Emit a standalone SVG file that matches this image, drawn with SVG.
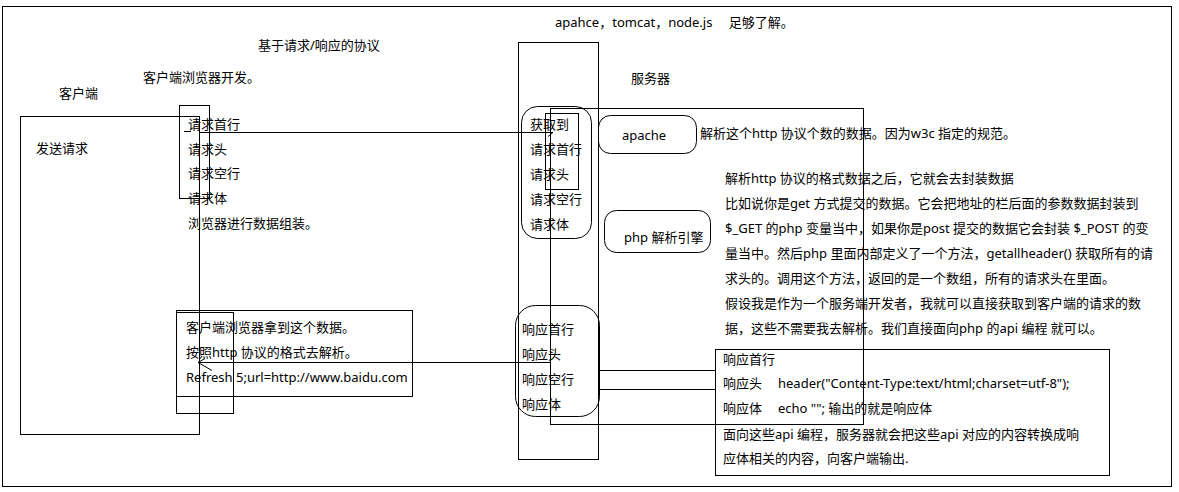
<svg xmlns="http://www.w3.org/2000/svg" width="1179" height="492" viewBox="0 0 1179 492">
<style>
.b{fill:none;stroke:#000;stroke-width:1}
text{font-family:"Noto Sans","Noto Sans CJK SC",sans-serif;font-size:13px;fill:#000}
</style>
<rect width="1179" height="492" fill="#fff"/>
<rect class="b" x="2.5" y="6.5" width="1169" height="480"/>
<g id="titles">
<text x="555" y="27">apahce，tomcat，node.js　  足够了解。</text>
<text x="258" y="50">基于请求/响应的协议</text>
<text x="143" y="82">客户端浏览器开发。</text>
<text x="59" y="98">客户端</text>
<text x="631" y="83">服务器</text>
</g>
<g id="client">
<rect class="b" x="20.5" y="116.5" width="179" height="318"/>
<text x="36" y="153">发送请求</text>
</g>
<g id="client-request">
<rect class="b" x="179.5" y="105.5" width="30" height="93"/>
<text x="188" y="129">请求首行</text>
<text x="188" y="154">请求头</text>
<text x="188" y="178">请求空行</text>
<text x="188" y="203">请求体</text>
<text x="188" y="228">浏览器进行数据组装。</text>
</g>
<g id="client-response">
<rect class="b" x="176.5" y="310.5" width="236" height="86"/>
<rect class="b" x="176.5" y="312.5" width="57" height="101"/>
<text x="186" y="332">客户端浏览器拿到这个数据。</text>
<text x="186" y="357">按照http 协议的格式去解析。</text>
<text x="186" y="382">Refresh 5;url=http://www.baidu.com</text>
</g>
<g id="server">
<rect class="b" x="518.5" y="42.5" width="80" height="417"/>
<rect class="b" x="550.5" y="108.5" width="313" height="316"/>
</g>
<g id="server-request">
<rect class="b" x="521.5" y="106.5" width="70" height="132" rx="16"/>
<rect class="b" x="545.5" y="113.5" width="33" height="76"/>
<text x="530" y="129">获取到</text>
<text x="530" y="154">请求首行</text>
<text x="530" y="179">请求头</text>
<text x="530" y="204">请求空行</text>
<text x="530" y="229">请求体</text>
</g>
<g id="apache">
<rect class="b" x="598.5" y="115.5" width="98" height="38" rx="12"/>
<text x="622" y="140">apache</text>
<text x="700" y="138">解析这个http 协议个数的数据。因为w3c 指定的规范。</text>
</g>
<g id="php">
<rect class="b" x="604.5" y="210.5" width="106" height="42" rx="12"/>
<text x="624" y="242">php 解析引擎</text>
</g>
<g id="php-notes">
<text x="725" y="183">解析http 协议的格式数据之后，它就会去封装数据</text>
<text x="725" y="208">比如说你是get 方式提交的数据。它会把地址的栏后面的参数数据封装到</text>
<text x="725" y="233">$_GET 的php 变量当中，如果你是post 提交的数据它会封装 $_POST 的变</text>
<text x="725" y="258">量当中。然后php 里面内部定义了一个方法，getallheader() 获取所有的请</text>
<text x="725" y="283">求头的。调用这个方法，返回的是一个数组，所有的请求头在里面。</text>
<text x="725" y="308">假设我是作为一个服务端开发者，我就可以直接获取到客户端的请求的数</text>
<text x="725" y="333">据，这些不需要我去解析。我们直接面向php 的api 编程 就可以。</text>
</g>
<g id="server-response">
<rect class="b" x="515.5" y="305.5" width="84" height="111" rx="20"/>
<text x="522" y="334">响应首行</text>
<text x="522" y="359">响应头</text>
<text x="522" y="384">响应空行</text>
<text x="522" y="409">响应体</text>
</g>
<g id="response-box">
<rect class="b" x="715.5" y="349.5" width="394" height="126"/>
<text x="723" y="364">响应首行</text>
<text x="723" y="388">响应头</text>
<text x="778" y="388">header("Content-Type:text/html;charset=utf-8");</text>
<text x="723" y="413">响应体</text>
<text x="778" y="413">echo ""; 输出的就是响应体</text>
<text x="723" y="439">面向这些api 编程，服务器就会把这些api 对应的内容转换成响</text>
<text x="723" y="463">应体相关的内容，向客户端输出.</text>
</g>
<g id="connectors">
<path class="b" d="M184 131.5H191"/>
<path class="b" d="M199 132.5H553L548 136.5"/>
<path class="b" d="M198 362.5H550"/>
<path class="b" d="M205 358.5L198 362.5L212 370.5"/>
<path class="b" d="M599 370.5H716M599 389.5H716"/>
</g>
</svg>
